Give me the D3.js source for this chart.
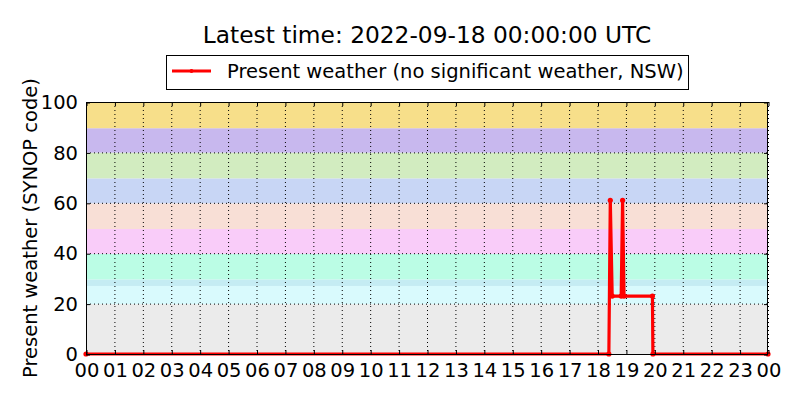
<!DOCTYPE html>
<html>
<head>
<meta charset="utf-8">
<script src="https://cdn.jsdelivr.net/npm/d3@7"></script>
<style>
body{margin:0;background:#fff;}
svg text{font-family:"DejaVu Sans",sans-serif;fill:#000;}
</style>
</head>
<body>
<svg id="chart" width="800" height="400"></svg>
<script>
// ---- data ----
const times = ["2022-09-17T00:00","2022-09-17T18:24","2022-09-17T18:27","2022-09-17T18:31","2022-09-17T18:50","2022-09-17T18:53","2022-09-17T18:56","2022-09-17T19:56","2022-09-17T19:57","2022-09-18T00:00"];
const values = [0,0,61,23,23,61,23,23,0,0];
const bandLow  = [0,19.8,27,29.6,39.7,49.6,59.8,69.7,79.9,89.6];
const bandHigh = [19.8,27,29.6,39.7,49.6,59.8,69.7,79.9,89.6,100];
const bandColors = ["#ebebeb","#d9fafd","#c5ecf3","#bbfde5","#f9ccf9","#f8dfd6","#c8d6f5","#d2ecc0","#c8b8ee","#f7df8a"];
const yTicks = [0,20,40,60,80,100];
const xTickLabels = ["00","01","02","03","04","05","06","07","08","09","10","11","12","13","14","15","16","17","18","19","20","21","22","23","00"];
const titleText = "Latest time: 2022-09-18 00:00:00 UTC";
const seriesName = "Present weather (no significant weather, NSW)";
const yLabel = "Present weather (SYNOP code)";

// ---- layout ----
const svg = d3.select("#chart");
const m = {l:86, r:768, t:102, b:354};
const fs = "19.5px";
const parse = d3.utcParse("%Y-%m-%dT%H:%M");
const t0 = parse("2022-09-17T00:00"), t1 = parse("2022-09-18T00:00");
const x = d3.scaleUtc().domain([t0,t1]).range([m.l,m.r]);
const y = d3.scaleLinear().domain([0,100]).range([m.b,m.t]);
const xTickVals = xTickLabels.map((d,i)=>d3.utcHour.offset(t0,i));

const g = svg.append("g");
// bands
g.selectAll("rect.band").data(bandLow).enter().append("rect")
  .attr("x",m.l).attr("width",m.r-m.l)
  .attr("y",(d,i)=>y(bandHigh[i])).attr("height",(d,i)=>y(d)-y(bandHigh[i]))
  .attr("fill",(d,i)=>bandColors[i]);

// grid
g.selectAll("line.gx").data(xTickVals).enter().append("line")
  .attr("x1",d=>x(d)+0.5).attr("x2",d=>x(d)+0.5).attr("y1",m.t).attr("y2",m.b)
  .attr("stroke","#000").attr("stroke-width",1).attr("stroke-dasharray","1,3");
g.selectAll("line.gy").data(yTicks).enter().append("line")
  .attr("y1",d=>y(d)+0.5).attr("y2",d=>y(d)+0.5).attr("x1",m.l).attr("x2",m.r)
  .attr("stroke","#000").attr("stroke-width",1).attr("stroke-dasharray","1,3");

// data line
const pts = times.map((t,i)=>({t:parse(t),v:values[i]}));
const line = d3.line().x(d=>x(d.t)).y(d=>y(d.v));
g.append("path").datum(pts).attr("d",line).attr("fill","none")
  .attr("stroke","#ff0000").attr("stroke-width",3.2).attr("stroke-linejoin","round");
g.selectAll("circle.pt").data(pts).enter().append("circle")
  .attr("cx",d=>x(d.t)).attr("cy",d=>y(d.v)).attr("r",2.6).attr("fill","#ff0000");

// frame
g.append("rect").attr("x",m.l+0.5).attr("y",m.t+0.5).attr("width",m.r-m.l-1).attr("height",m.b-m.t)
  .attr("fill","none").attr("stroke","#000").attr("stroke-width",1);

// axes
const xAxis = d3.axisBottom(x).tickValues(xTickVals).tickFormat((d,i)=>xTickLabels[i]).tickSize(-4).tickPadding(9);
const xa = svg.append("g").attr("transform",`translate(0.5,${m.b})`).call(xAxis);
xa.select(".domain").remove();
xa.selectAll("text").attr("font-size",fs).attr("font-family","DejaVu Sans");
const xAxisTop = d3.axisTop(x).tickValues(xTickVals).tickFormat("").tickSize(-4);
const xt = svg.append("g").attr("transform",`translate(0.5,${m.t})`).call(xAxisTop);
xt.select(".domain").remove();

const yAxis = d3.axisLeft(y).tickValues(yTicks).tickSize(-4).tickPadding(8);
const ya = svg.append("g").attr("transform",`translate(${m.l},0.5)`).call(yAxis);
ya.select(".domain").remove();
ya.selectAll("text").attr("font-size",fs).attr("font-family","DejaVu Sans");
const yAxisR = d3.axisRight(y).tickValues(yTicks).tickFormat("").tickSize(-4);
const yr = svg.append("g").attr("transform",`translate(${m.r},0.5)`).call(yAxisR);
yr.select(".domain").remove();

// y label
svg.append("text").attr("transform",`translate(37,${(m.t+m.b)/2}) rotate(-90)`)
  .attr("text-anchor","middle").attr("font-size",fs).text(yLabel);

// title
svg.append("text").attr("x",(m.l+m.r)/2).attr("y",43).attr("text-anchor","middle")
  .attr("font-size","23.3px").text(titleText);

// legend
const lg = svg.append("g");
lg.append("rect").attr("x",166.5).attr("y",55.5).attr("width",522).attr("height",34)
  .attr("fill","#fff").attr("stroke","#000").attr("stroke-width",1);
lg.append("line").attr("x1",172).attr("x2",211).attr("y1",71).attr("y2",71)
  .attr("stroke","#ff0000").attr("stroke-width",3);
lg.append("circle").attr("cx",191.5).attr("cy",71).attr("r",2).attr("fill","#ff0000");
lg.append("text").attr("x",227).attr("y",78).attr("font-size",fs).text(seriesName);
</script>
</body>
</html>
